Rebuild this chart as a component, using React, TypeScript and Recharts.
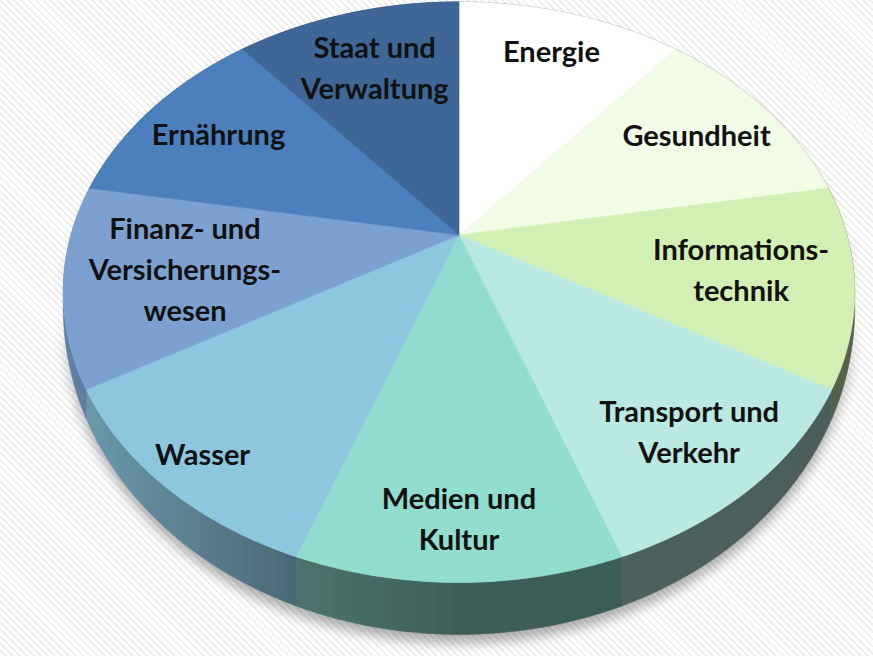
import { PieChart, Pie } from "recharts";

// Anwendungsfelder, alle gleich groß
const categories = [
  "Energie",
  "Gesundheit",
  "Informations-\ntechnik",
  "Transport und\nVerkehr",
  "Medien und\nKultur",
  "Wasser",
  "Finanz- und\nVersicherungs-\nwesen",
  "Ernährung",
  "Staat und\nVerwaltung",
];
const shares = [1, 1, 1, 1, 1, 1, 1, 1, 1];
const colors = [
  "#FFFFFF",
  "#F1FBE6",
  "#D3F0B4",
  "#B9E9E2",
  "#91DDCF",
  "#8CC6DF",
  "#7CA1D1",
  "#4C7FBD",
  "#3E6696",
];

const data = categories.map((name, i) => ({ name, value: shares[i], fill: colors[i] }));

// wie weit die Beschriftung vom Mittelpunkt sitzt (Anteil am Radius)
const LABEL_FRAC = [0.8, 0.76, 0.72, 0.81, 0.85, 0.89, 0.7, 0.77, 0.72];

const W = 873;
const H = 656;
const CX = 459;
const CY = 235;
const RX = 388;
const RY = 279;
const PERSP = -0.197; // Perspektive: vorne größer

function shade(hex: string, f: number) {
  const n = parseInt(hex.slice(1), 16);
  const r = Math.round(((n >> 16) & 255) * f);
  const g = Math.round(((n >> 8) & 255) * f);
  const b = Math.round((n & 255) * f);
  return `rgb(${r},${g},${b})`;
}

function project(cx: number, cy: number, r: number, angle: number, frac = 1, withDrop = false) {
  const a = (angle * Math.PI) / 180;
  const u = Math.cos(a) * frac;
  const v = -Math.sin(a) * frac;
  const d = 1 + PERSP * v;
  const drop = withDrop ? Math.max(3, 6 + 46 * v) : 0;
  return [cx + (r * u) / d, cy + (r * (RY / RX) * v) / d + drop];
}

function arc(p: any, withDrop = false) {
  const pts: number[][] = [];
  const steps = 40;
  for (let s = 0; s <= steps; s++) {
    const ang = p.startAngle + ((p.endAngle - p.startAngle) * s) / steps;
    pts.push(project(p.cx, p.cy, p.outerRadius, ang, 1, withDrop));
  }
  return pts;
}

const toPath = (pts: number[][]) => pts.map((q, i) => `${i ? "L" : "M"}${q[0].toFixed(1)},${q[1].toFixed(1)}`).join(" ");

function wallPath(p: any) {
  const top = arc(p);
  const bottom = arc(p, true).reverse();
  return toPath([...top, ...bottom]) + " Z";
}

const ShadowShape = (p: any) => {
  const i = categories.indexOf(p.name);
  return (
    <g>
      <defs>
        <filter id={`pie-shadow-${i}`} x="-50%" y="-50%" width="200%" height="200%">
          <feGaussianBlur stdDeviation="6" />
        </filter>
      </defs>
      <path d={wallPath(p)} transform="translate(0,9)" fill="#000" fillOpacity={0.3} filter={`url(#pie-shadow-${i})`} />
    </g>
  );
};

const WallShape = (p: any) => {
  const i = categories.indexOf(p.name);
  const c = colors[i];
  return (
    <g>
      <defs>
        <linearGradient id={`wall-${i}`} gradientUnits="userSpaceOnUse" x1={60} y1={0} x2={860} y2={0}>
          <stop offset="0" stopColor={shade(c, 0.8)} />
          <stop offset="0.3" stopColor={shade(c, 0.52)} />
          <stop offset="0.5" stopColor={shade(c, 0.43)} />
          <stop offset="1" stopColor={shade(c, 0.4)} />
        </linearGradient>
      </defs>
      <path d={wallPath(p)} fill={`url(#wall-${i})`} stroke={`url(#wall-${i})`} strokeWidth={0.6} />
    </g>
  );
};

const TopShape = (p: any) => {
  const pts = [[p.cx, p.cy], ...arc(p)];
  return <path d={toPath(pts) + " Z"} fill={p.fill} stroke={p.fill} strokeWidth={0.6} />;
};

const renderLabel = (p: any) => {
  const i = categories.indexOf(p.name);
  const [x, y] = project(p.cx, p.cy, p.outerRadius, p.midAngle, LABEL_FRAC[i]);
  const lines = String(p.name).split("\n");
  const lh = 41;
  return (
    <text
      x={x}
      y={y}
      textAnchor="middle"
      fontFamily="Lato, 'Open Sans', sans-serif"
      fontWeight="bold"
      fontSize={29}
      fill="#111"
    >
      {lines.map((line, k) => (
        <tspan key={k} x={x} dy={k === 0 ? -((lines.length - 1) / 2) * lh + 10 : lh}>
          {line}
        </tspan>
      ))}
    </text>
  );
};

export default function App() {
  return (
    <div
      style={{
        position: "absolute",
        left: 0,
        top: 0,
        width: W,
        height: H,
        background: "repeating-linear-gradient(45deg, #ffffff 0px, #ffffff 3px, #efefef 3px, #efefef 5px)",
      }}
    >
      <PieChart width={W} height={H} margin={{ top: 0, right: 0, bottom: 0, left: 0 }}>
        <Pie
          data={data}
          dataKey="value"
          nameKey="name"
          cx={CX}
          cy={CY}
          outerRadius={RX}
          startAngle={90}
          endAngle={-270}
          shape={ShadowShape}
          isAnimationActive={false}
        />
        <Pie
          data={data}
          dataKey="value"
          nameKey="name"
          cx={CX}
          cy={CY}
          outerRadius={RX}
          startAngle={90}
          endAngle={-270}
          shape={WallShape}
          isAnimationActive={false}
        />
        <Pie
          data={data}
          dataKey="value"
          nameKey="name"
          cx={CX}
          cy={CY}
          outerRadius={RX}
          startAngle={90}
          endAngle={-270}
          shape={TopShape}
          label={renderLabel}
          labelLine={false}
          isAnimationActive={false}
        />
      </PieChart>
    </div>
  );
}
